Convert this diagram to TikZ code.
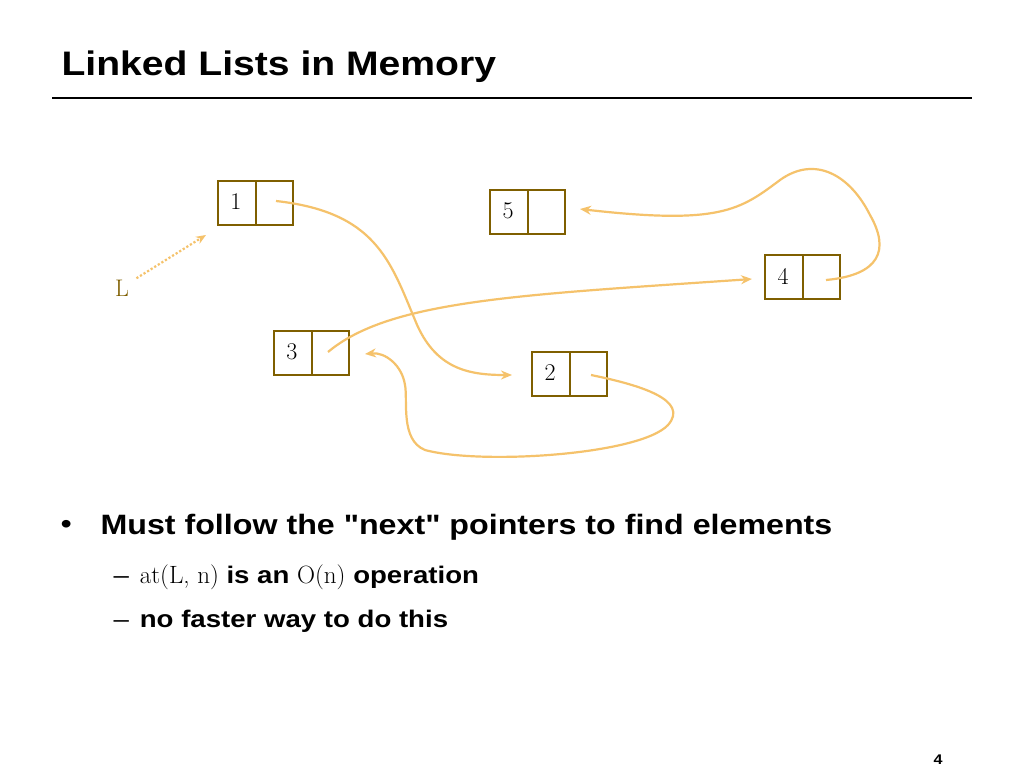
\documentclass[tikz,border=0pt]{standalone}
\usepackage{fontspec}
\setmainfont{Liberation Sans}[Ligatures=TeXOff,FakeStretch=1.15]
\newfontfamily\serifnum{Latin Modern Roman}
\usetikzlibrary{arrows.meta}
\definecolor{boxc}{HTML}{7F5F00}
\definecolor{arr}{HTML}{F5C26B}
\begin{document}
\begin{tikzpicture}[x=1pt,y=-1pt,
  cell/.style={draw=boxc,line width=1.6pt,minimum width=75pt,minimum height=44pt,inner sep=0pt},
  num/.style={font=\serifnum\fontsize{24}{24}\selectfont},
  ptr/.style={draw=arr,line width=2.2pt,-{Stealth[length=11pt,width=9pt]}}]
\useasboundingbox[fill=white] (0,0) rectangle (1024,768);
\node[anchor=west,font=\bfseries\fontsize{34}{40}\selectfont] (title) at (58,67) {Linked Lists in Memory};
\draw[line width=2.5pt] (52,98) -- (972,98);
% boxes
\foreach \n/\x/\y in {1/217/180,5/489/189,4/764/254,3/273/330,2/531/351}{
  \node[cell,anchor=north west] (b\n) at (\x,\y) {};
  \draw[draw=boxc,line width=1.6pt] (\x+39,\y) -- (\x+39,\y+44);
  \node[num] (t\n) at (\x+19,\y+22) {\n};
}
\node[num,text=boxc] (L) at (122,288) {L};
\coordinate (p1) at (276,201);
\coordinate (p2) at (591,375);
\coordinate (p3) at (328,352);
\coordinate (p4) at (826,280);
\coordinate (e1) at (206,235);
\coordinate (e2) at (512,375);
\coordinate (e3) at (365,354);
\coordinate (e4) at (752,279);
\coordinate (e5) at (580,209);
\draw[draw=arr,line width=2.2pt,dotted,-{Stealth[length=10pt,width=8pt]}] (L.north east) ++(4,2) -- (e1);
\draw[ptr] (p1) .. controls (375,212) and (390,260) .. (415,320) .. controls (435,370) and (470,375) .. (e2);
\draw[ptr] (p2) .. controls (640,385) and (690,400) .. (668,425) .. controls (640,455) and (480,465) .. (425,450) .. controls (400,440) and (408,400) .. (405,385) .. controls (402,365) and (385,352) .. (e3);
\draw[ptr] (p3) .. controls (390,300) and (520,295) .. (e4);
\draw[ptr] (p4) .. controls (880,275) and (890,250) .. (870,215) .. controls (850,175) and (815,155) .. (780,180) .. controls (740,210) and (720,225) .. (e5);
% text
\node[anchor=west,font=\fontsize{28}{30}\selectfont] (bul) at (57,527) {•};
\node[anchor=west,font=\bfseries\fontsize{28}{32}\selectfont] (m) at (97,527) {Must follow the "next" pointers to find elements};
\node[anchor=west,font=\fontsize{24}{28}\selectfont] (d1) at (110,577) {–\hspace{11pt}{\serifnum\fontsize{25}{28}\selectfont at(L, n)} \textbf{is an} {\serifnum\fontsize{25}{28}\selectfont O(n)} \textbf{operation}};
\node[anchor=west,font=\fontsize{24}{28}\selectfont] (d2) at (110,621) {–\hspace{11pt}\textbf{no faster way to do this}};
\node[font=\bfseries\fontsize{14}{16}\selectfont] (pg) at (938,760) {4};
\end{tikzpicture}
\end{document}
